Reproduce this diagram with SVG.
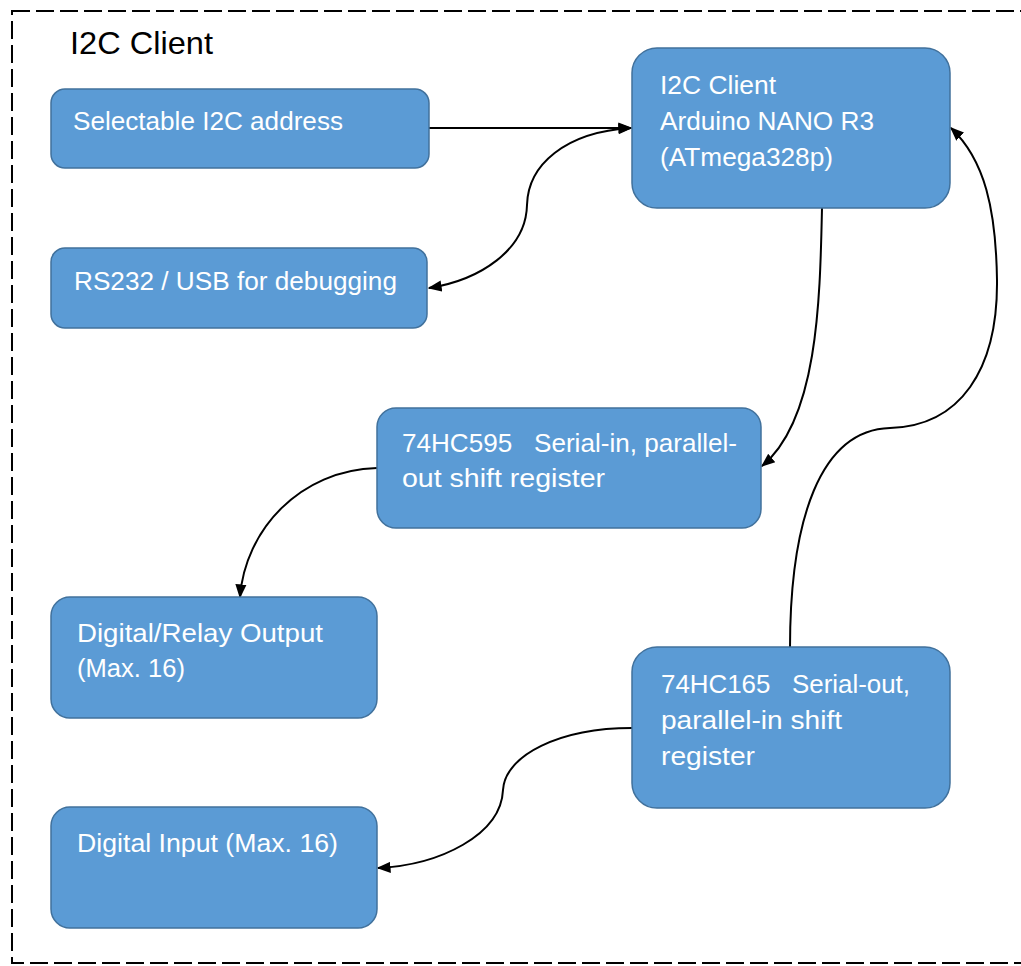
<svg xmlns="http://www.w3.org/2000/svg" width="1021" height="966" viewBox="0 0 1021 966">
<style>
.box{fill:#5B9BD5;stroke:#41719C;stroke-width:1.5}
.t{font-family:"Liberation Sans",Arial,sans-serif;font-size:25px;fill:#FFFFFF;white-space:pre}
.title{font-family:"Liberation Sans",Arial,sans-serif;font-size:32px;fill:#000000}
.c{fill:none;stroke:#000000;stroke-width:2}
</style>
<defs>
<marker id="ah" viewBox="0 0 10 10" refX="9" refY="5" markerWidth="14" markerHeight="14" markerUnits="userSpaceOnUse" orient="auto-start-reverse">
<path d="M0,1 L10,5 L0,9 Z" fill="#000"/>
</marker>
</defs>
<rect x="0" y="0" width="1021" height="966" fill="#FFFFFF"/>
<rect id="frame" x="12" y="11" width="1030" height="952" fill="none" stroke="#000" stroke-width="2" stroke-dasharray="18,6"/>
<text class="title" x="70" y="54" textLength="143" lengthAdjust="spacingAndGlyphs">I2C Client</text>

<g id="connectors">
<path class="c" d="M429,128 L631,128" marker-end="url(#ah)"/>
<path class="c" d="M631,128 C565,132 528,165 527,205 C526,250 480,280 429,288" marker-end="url(#ah)" marker-start="url(#ah)"/>
<path class="c" d="M822,208 C820,300 818,420 762,466" marker-end="url(#ah)"/>
<path class="c" d="M377,468 C300,470 245,530 240,597" marker-end="url(#ah)"/>
<path class="c" d="M790,648 C790,520 820,430 890,428 C960,426 998,370 997,280 C996,210 985,160 951,128" marker-end="url(#ah)"/>
<path class="c" d="M632,728 C560,728 505,755 503,790 C501,835 440,865 378,868" marker-end="url(#ah)"/>
</g>

<g id="n-addr">
<rect class="box" x="51" y="89" width="378" height="79" rx="14"/>
<text class="t" x="73" y="130" textLength="270" lengthAdjust="spacingAndGlyphs">Selectable I2C address</text>
</g>
<g id="n-rs232">
<rect class="box" x="51" y="248" width="376" height="80" rx="14"/>
<text class="t" x="74" y="290" textLength="323" lengthAdjust="spacingAndGlyphs">RS232 / USB for debugging</text>
</g>
<g id="n-arduino">
<rect class="box" x="632" y="48" width="318" height="160" rx="25"/>
<text class="t" x="660" y="94" textLength="116" lengthAdjust="spacingAndGlyphs">I2C Client</text>
<text class="t" x="660" y="130" textLength="214" lengthAdjust="spacingAndGlyphs">Arduino NANO R3</text>
<text class="t" x="660" y="166" textLength="173" lengthAdjust="spacingAndGlyphs">(ATmega328p)</text>
</g>
<g id="n-595">
<rect class="box" x="377" y="408" width="384" height="120" rx="19"/>
<text class="t" x="402" y="452" textLength="335" lengthAdjust="spacingAndGlyphs">74HC595   Serial-in, parallel-</text>
<text class="t" x="402" y="487" textLength="203" lengthAdjust="spacingAndGlyphs">out shift register</text>
</g>
<g id="n-out">
<rect class="box" x="51" y="597" width="326" height="121" rx="19"/>
<text class="t" x="77" y="642" textLength="246" lengthAdjust="spacingAndGlyphs">Digital/Relay Output</text>
<text class="t" x="77" y="677" textLength="108" lengthAdjust="spacingAndGlyphs">(Max. 16)</text>
</g>
<g id="n-165">
<rect class="box" x="632" y="647" width="318" height="161" rx="25"/>
<text class="t" x="661" y="693" textLength="249" lengthAdjust="spacingAndGlyphs">74HC165   Serial-out,</text>
<text class="t" x="661" y="729" textLength="181" lengthAdjust="spacingAndGlyphs">parallel-in shift</text>
<text class="t" x="661" y="765" textLength="94" lengthAdjust="spacingAndGlyphs">register</text>
</g>
<g id="n-in">
<rect class="box" x="51" y="807" width="326" height="121" rx="19"/>
<text class="t" x="77" y="852" textLength="261" lengthAdjust="spacingAndGlyphs">Digital Input (Max. 16)</text>
</g>
</svg>
